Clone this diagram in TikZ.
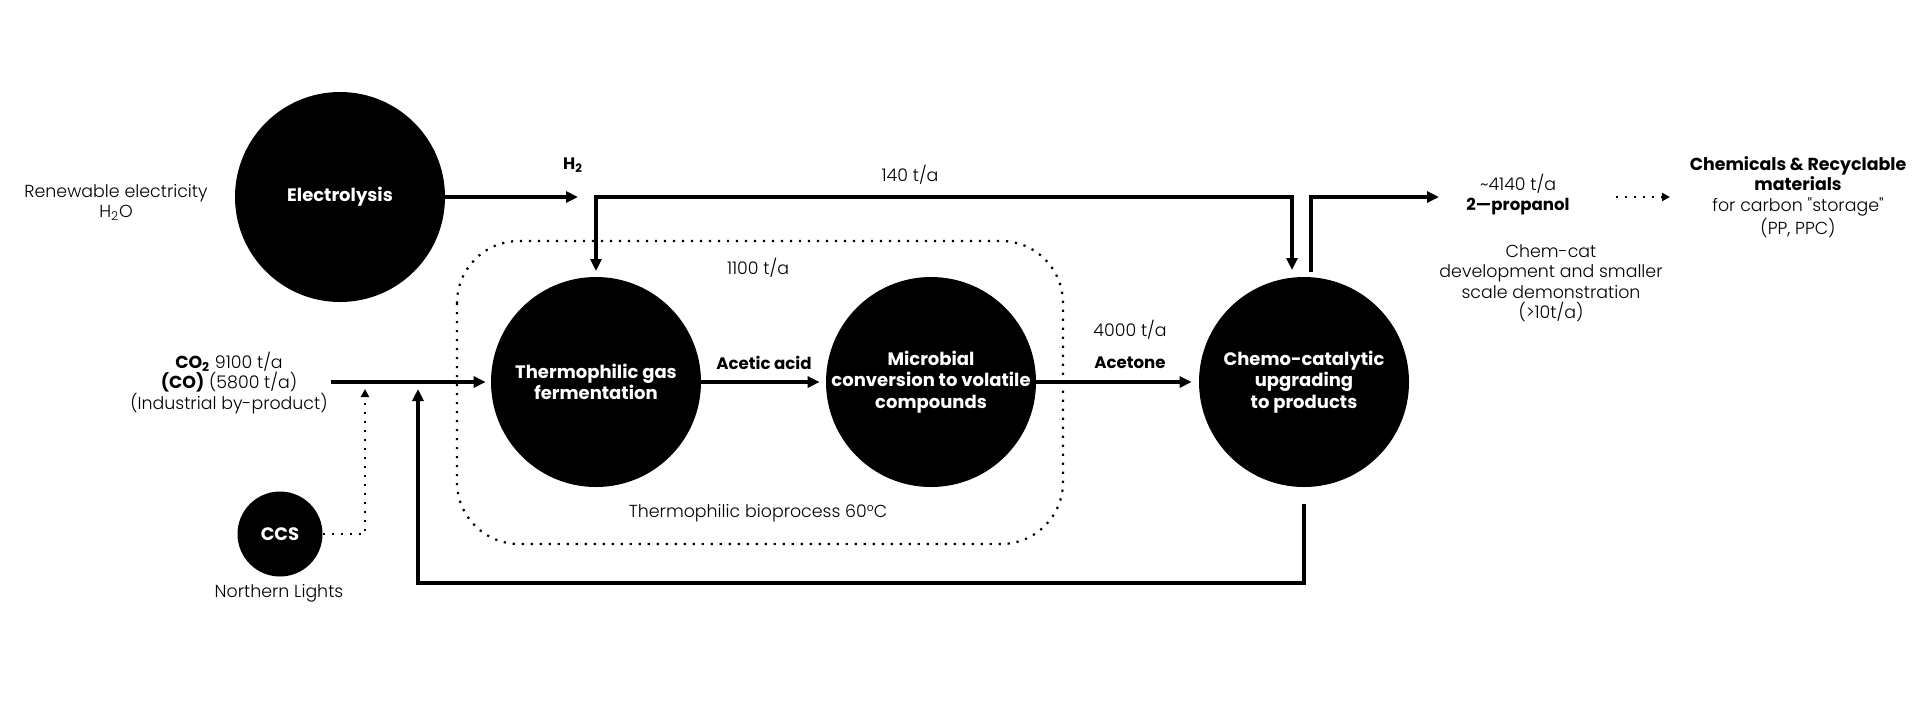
\documentclass[tikz,border=0pt]{standalone}
\usepackage{fontspec}
\setmainfont{Poppins}[UprightFont=* Light, BoldFont=* Bold, Ligatures=TeXOff]
\usetikzlibrary{arrows.meta}
\begin{document}
\begin{tikzpicture}[x=0.5pt,y=-0.5pt,
  blob/.style={circle,fill=black,text=white,inner sep=0pt,minimum size=105pt,align=center,font=\bfseries\fontsize{9}{10.8}\selectfont},
  lbl/.style={align=center,inner sep=0pt,font=\fontsize{8.7}{10.2}\selectfont},
  blbl/.style={align=center,inner sep=0pt,font=\bfseries\fontsize{8.3}{10}\selectfont},
  arr/.style={line width=1.7pt,-{Triangle[length=6pt,width=5.5pt]}},
  arrboth/.style={line width=1.7pt,{Triangle[length=6pt,width=5.5pt]}-{Triangle[length=6pt,width=5.5pt]}},
  dotline/.style={line width=1.1pt,dash pattern=on 1.1pt off 3.4pt},
  dotarr/.style={dotline,-{Triangle[length=4pt,width=4pt]}}]
\useasboundingbox (0,0) rectangle (1920,714);

% dotted bioprocess box
\draw[dotline, rounded corners=31pt] (457,241) rectangle (1063,544);

% circles
\node[blob] (elec) at (340,197) {Electrolysis};
\node[blob] (therm) at (596,382) {Thermophilic gas\\fermentation};
\node[blob] (micro) at (931,382) {Microbial\\conversion to volatile\\compounds};
\node[blob] (chemo) at (1304,382) {Chemo-catalytic\\upgrading\\to products};
\node[blob,minimum size=42.5pt] (ccs) at (280,534) {CCS};

% labels
\node[lbl] (renew) at (116,202) {Renewable electricity\\H\textsubscript{2}O};
\node[blbl] (h2) at (573,165) {H\textsubscript{2}};
\node[lbl] (t140) at (910,175) {140 t/a};
\node[lbl] (t1100) at (758,268) {1100 t/a};
\node[blbl] (acetic) at (764,363) {Acetic acid};
\node[lbl] (t4000) at (1130,330) {4000 t/a};
\node[blbl] (acetone) at (1130,363) {Acetone};
\node[lbl] (t4140) at (1518,184) {\textasciitilde4140 t/a};
\node[blbl] (prop) at (1518,207) {2—propanol};
\node[lbl] (chemcat) at (1551,283) {Chem-cat\\development and smaller\\scale demonstration\\(>10t/a)};
\node[lbl] (chemicals) at (1798,197) {\textbf{Chemicals \& Recyclable}\\\textbf{materials}\\for carbon "storage"\\(PP, PPC)};
\node[lbl] (co2) at (229,383) {\textbf{CO\textsubscript{2}} 9100 t/a\\\textbf{(CO)} (5800 t/a)\\(Industrial by-product)};
\node[lbl] (nl) at (279,593) {Northern Lights};
\node[lbl] (bio) at (758,513) {Thermophilic bioprocess 60°C};

% coordinates
\coordinate (h2end) at (578,197);
\coordinate (split) at (596,197);
\coordinate (thermTip) at (596,271);
\coordinate (cornerR) at (1292,197);
\coordinate (chemoTip) at (1292,270);
\coordinate (outStart) at (1311,272);
\coordinate (propTip) at (1439,197);
\coordinate (co2start) at (331,382);
\coordinate (ccsTip) at (365,389);
\coordinate (recA) at (1304,504);
\coordinate (recB) at (418,583);
\coordinate (recTip) at (418,389);
\coordinate (dotA) at (1616,197);
\coordinate (dotB) at (1670,197);

% connectors
\draw[arr] (elec) -- (h2end);
\draw[arrboth] (thermTip) -- (split) -- (cornerR) -- (chemoTip);
\draw[arr] (outStart) |- (propTip);
\draw[arr, shorten >=2.5pt] (co2start) -- (therm);
\draw[arr, shorten >=3pt] (therm) -- (micro);
\draw[arr, shorten >=3.5pt] (micro) -- (chemo);
\draw[dotarr] (ccs) -| (ccsTip);
\draw[arr] (recA) |- (recB) -- (recTip);
\draw[dotarr] (dotA) -- (dotB);
\end{tikzpicture}
\end{document}
